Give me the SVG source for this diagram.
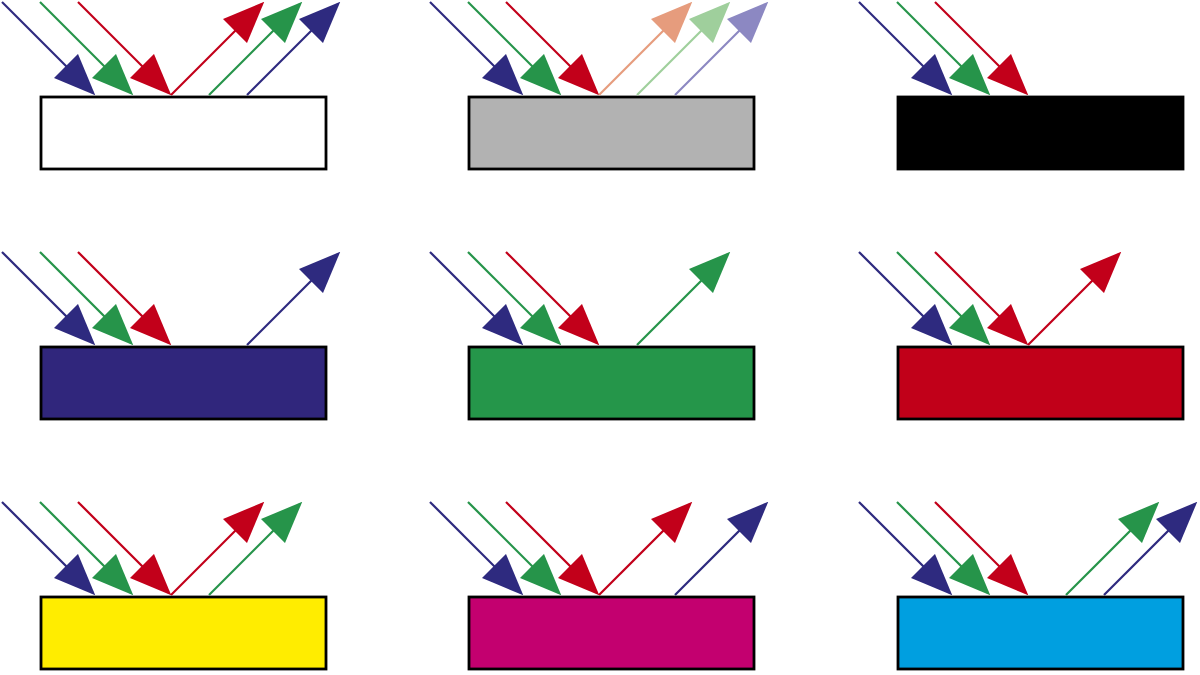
<svg xmlns="http://www.w3.org/2000/svg" width="1200" height="675" viewBox="0 0 1200 675">
<style>
.box{stroke:#000;stroke-width:2.8}
.ray{stroke-width:2.2;fill:none}
.b{stroke:#2e2a7f}.g{stroke:#26944a}.r{stroke:#c2001a}
.lr{stroke:#e69c7d}.lg{stroke:#9fcf9c}.lb{stroke:#8c88c2}
</style>
<defs>
<marker id="mb" markerUnits="userSpaceOnUse" markerWidth="42" markerHeight="34" refX="36" refY="16" orient="auto" viewBox="0 0 39 32"><path d="M0,0L39,16L0,32z" fill="#2e2a7f"/></marker>
<marker id="mg" markerUnits="userSpaceOnUse" markerWidth="42" markerHeight="34" refX="36" refY="16" orient="auto" viewBox="0 0 39 32"><path d="M0,0L39,16L0,32z" fill="#26944a"/></marker>
<marker id="mr" markerUnits="userSpaceOnUse" markerWidth="42" markerHeight="34" refX="36" refY="16" orient="auto" viewBox="0 0 39 32"><path d="M0,0L39,16L0,32z" fill="#c2001a"/></marker>
<marker id="mlr" markerUnits="userSpaceOnUse" markerWidth="42" markerHeight="34" refX="36" refY="16" orient="auto" viewBox="0 0 39 32"><path d="M0,0L39,16L0,32z" fill="#e69c7d"/></marker>
<marker id="mlg" markerUnits="userSpaceOnUse" markerWidth="42" markerHeight="34" refX="36" refY="16" orient="auto" viewBox="0 0 39 32"><path d="M0,0L39,16L0,32z" fill="#9fcf9c"/></marker>
<marker id="mlb" markerUnits="userSpaceOnUse" markerWidth="42" markerHeight="34" refX="36" refY="16" orient="auto" viewBox="0 0 39 32"><path d="M0,0L39,16L0,32z" fill="#8c88c2"/></marker>
<g id="incoming">
<line class="ray b" x1="2" y1="2" x2="93" y2="93" marker-end="url(#mb)"/>
<line class="ray g" x1="40" y1="2" x2="131" y2="93" marker-end="url(#mg)"/>
<line class="ray r" x1="78" y1="2" x2="169" y2="93" marker-end="url(#mr)"/>
</g>
</defs>
<rect width="1200" height="675" fill="#fff"/>
<g id="surfaces">
<g id="white"><rect class="box" x="41" y="97" width="285" height="72" fill="#fff"/></g>
<g id="gray"><rect class="box" x="469" y="97" width="285" height="72" fill="#b2b2b2"/></g>
<g id="black"><rect class="box" x="898" y="97" width="285" height="72" fill="#000"/></g>
<g id="blue"><rect class="box" x="41" y="347" width="285" height="72" fill="#30267c"/></g>
<g id="green"><rect class="box" x="469" y="347" width="285" height="72" fill="#25964a"/></g>
<g id="red"><rect class="box" x="898" y="347" width="285" height="72" fill="#c10019"/></g>
<g id="yellow"><rect class="box" x="41" y="597" width="285" height="72" fill="#ffed00"/></g>
<g id="magenta"><rect class="box" x="469" y="597" width="285" height="72" fill="#c3006f"/></g>
<g id="cyan"><rect class="box" x="898" y="597" width="285" height="72" fill="#009fe0"/></g>
</g>
<g id="connectors">
<g transform="translate(0,0)">
<use href="#incoming"/>
<line class="ray r" x1="171" y1="95" x2="262" y2="4" marker-end="url(#mr)"/>
<line class="ray g" x1="209" y1="95" x2="300" y2="4" marker-end="url(#mg)"/>
<line class="ray b" x1="247" y1="95" x2="338" y2="4" marker-end="url(#mb)"/>
</g>
<g transform="translate(428,0)">
<use href="#incoming"/>
<line class="ray lr" x1="171" y1="95" x2="262" y2="4" marker-end="url(#mlr)"/>
<line class="ray lg" x1="209" y1="95" x2="300" y2="4" marker-end="url(#mlg)"/>
<line class="ray lb" x1="247" y1="95" x2="338" y2="4" marker-end="url(#mlb)"/>
</g>
<g transform="translate(857,0)">
<use href="#incoming"/>
</g>
<g transform="translate(0,250)">
<use href="#incoming"/>
<line class="ray b" x1="247" y1="95" x2="338" y2="4" marker-end="url(#mb)"/>
</g>
<g transform="translate(428,250)">
<use href="#incoming"/>
<line class="ray g" x1="209" y1="95" x2="300" y2="4" marker-end="url(#mg)"/>
</g>
<g transform="translate(857,250)">
<use href="#incoming"/>
<line class="ray r" x1="171" y1="95" x2="262" y2="4" marker-end="url(#mr)"/>
</g>
<g transform="translate(0,500)">
<use href="#incoming"/>
<line class="ray r" x1="171" y1="95" x2="262" y2="4" marker-end="url(#mr)"/>
<line class="ray g" x1="209" y1="95" x2="300" y2="4" marker-end="url(#mg)"/>
</g>
<g transform="translate(428,500)">
<use href="#incoming"/>
<line class="ray r" x1="171" y1="95" x2="262" y2="4" marker-end="url(#mr)"/>
<line class="ray b" x1="247" y1="95" x2="338" y2="4" marker-end="url(#mb)"/>
</g>
<g transform="translate(857,500)">
<use href="#incoming"/>
<line class="ray g" x1="209" y1="95" x2="300" y2="4" marker-end="url(#mg)"/>
<line class="ray b" x1="247" y1="95" x2="338" y2="4" marker-end="url(#mb)"/>
</g>
</g>
</svg>
